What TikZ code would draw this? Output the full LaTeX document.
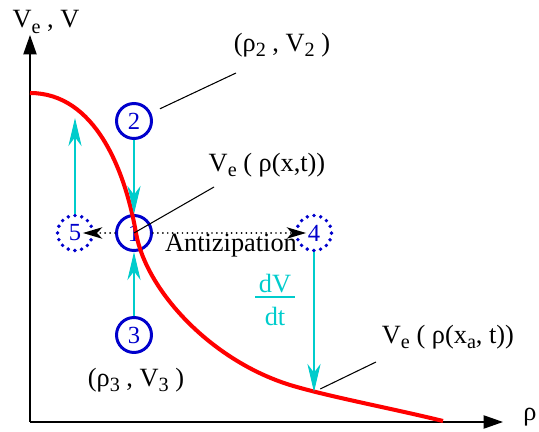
\documentclass[tikz,border=0pt]{standalone}
\usepackage{fontspec}
\setmainfont{Liberation Serif}
\usetikzlibrary{arrows.meta,positioning}
\definecolor{antiRed}{HTML}{FF0000}
\definecolor{antiBlue}{HTML}{0000CC}
\definecolor{antiCyan}{HTML}{00CCCC}
\newcommand{\lowsub}[1]{\raisebox{-0.42ex}{\fontsize{11.5}{12}\selectfont #1}}

\begin{document}
\begin{tikzpicture}[x=0.02cm,y=-0.02cm,
    font=\fontsize{15}{17}\selectfont,
    state/.style={circle,draw=antiBlue,line width=1.7pt,minimum size=0.7cm,
                  inner sep=0pt,text=antiBlue,font=\fontsize{14}{16}\selectfont},
    ghost/.style={state,line width=2.2pt,line cap=round,dash pattern=on 0pt off 3.9pt},
    flow/.style={draw=antiCyan,line width=0.6pt,
                 -{Stealth[length=16pt,width=7.5pt,inset=5pt,fill=antiCyan]}},
    axis/.style={line width=0.8pt,-{Triangle[length=11pt,width=7.5pt]}},
    leader/.style={line width=0.6pt},
    jump/.style={line width=1.1pt,line cap=round,dash pattern=on 0pt off 2.8pt,
                 shorten >=4.5pt,-{Stealth[length=11pt,width=6.5pt,inset=3pt]}}]
  \useasboundingbox (0,0) rectangle (539,432);

  % axes
  \coordinate (o) at (30,422);
  \coordinate (ytip) at (30,35);
  \coordinate (xtip) at (503,422);
  \draw[axis] (o) -- (ytip);
  \draw[axis] (o) -- (xtip);
  \node (ylab) at (46,22) {V\lowsub{e} , V};
  \node (xlab) at (530,417) {ρ};

  % states
  \node[state] (c2) at (134,121) {2};
  \node[state] (c1) at (134,233) {1};
  \node[state] (c3) at (134,335) {3};
  \node[ghost] (c5) at (75,233) {5};
  \node[ghost] (c4) at (314,233) {4};

  % equilibrium curve
  \draw[antiRed,line width=2.3pt] (30,93) .. controls (95,93) and (125,170) .. (136,233)
    .. controls (146,290) and (210,360) .. (290,385)
    .. controls (330,397) and (390,408) .. (443,421);

  \coordinate (top5) at (75,118);
  \coordinate (xa) at (314,392);
  \draw[flow] (c2) -- (c1);
  \draw[flow] (c3) -- (c1);
  \draw[flow] (c5) -- (top5);
  \draw[flow] (c4) -- (xa);

  \draw[jump] (c1) -- (c5.center);
  \draw[jump] (c1) -- (c4.center);

  % labels
  \node (p2) at (282,45) {(ρ\lowsub{2} , V\lowsub{2} )};
  \node (ve1) at (267,165) {V\lowsub{e} ( ρ(x,t))};
  \node (anti) at (231,246) {Antizipation};
  \node[text=antiCyan,align=center,inner sep=0pt] (rate) at (275,300)
    {dV\\[-14pt]\rule{0.8cm}{0.7pt}\\[-1pt]dt};
  \node (ve2) at (448,337) {V\lowsub{e} ( ρ(x\lowsub{a}, t))};
  \node (p3) at (136,380) {(ρ\lowsub{3} , V\lowsub{3} )};

  \coordinate (l2) at (236,73);
  \coordinate (l1) at (214,187);
  \coordinate (l4) at (376,362);
  \draw[leader,shorten <=5.5pt] (c2) -- (l2);
  \draw[leader] (c1.center) -- (l1);
  \draw[leader,shorten >=4pt] (l4) -- (xa);
\end{tikzpicture}
\end{document}
